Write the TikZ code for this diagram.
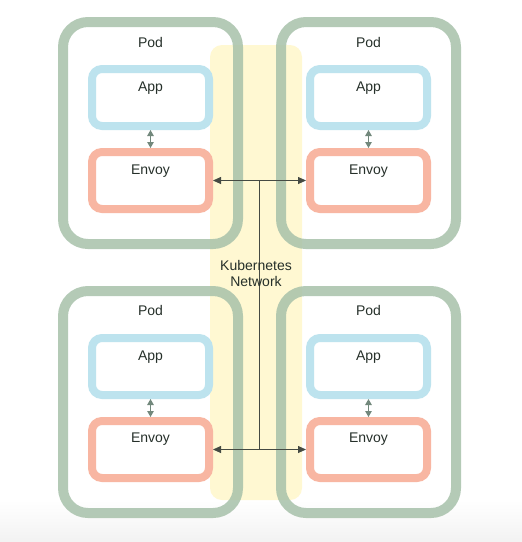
\documentclass[tikz,border=0pt]{standalone}
\usepackage{fontspec}
\setmainfont{Liberation Sans}
\usetikzlibrary{arrows.meta,calc}
\definecolor{podc}{HTML}{A7C1AA}
\definecolor{appc}{HTML}{BDE3EE}
\definecolor{envc}{HTML}{F8B6A2}
\definecolor{netc}{HTML}{FFF8D2}
\definecolor{txtc}{HTML}{26302A}
\definecolor{arrc}{HTML}{454A43}
\definecolor{smallc}{HTML}{72887C}
\tikzset{
  podbox/.style={draw=podc, line width=10pt, rounded corners=25pt, minimum width=175pt, minimum height=222pt, draw opacity=0.85, inner sep=0pt},
  appbox/.style={draw=appc, fill=white, line width=8pt, rounded corners=10pt, minimum width=117pt, minimum height=57pt, inner sep=0pt},
  envbox/.style={draw=envc, fill=white, line width=8pt, rounded corners=10pt, minimum width=117pt, minimum height=57pt, inner sep=0pt},
  lbl/.style={text=txtc, font=\fontsize{14}{16}\selectfont, inner sep=0pt},
  netarrow/.style={draw=arrc, line width=0.8pt, {Triangle[length=8pt,width=7pt]}-{Triangle[length=8pt,width=7pt]}},
  podarrow/.style={draw=smallc, line width=1.2pt, {Triangle[length=6pt,width=6.5pt]}-{Triangle[length=6pt,width=6.5pt]}},
  netline/.style={draw=arrc, line width=0.8pt},
}
\begin{document}
\begin{tikzpicture}[x=1pt,y=-1pt]
\useasboundingbox (0,0) rectangle (522,542);
\fill[white] (0,0) rectangle (522,542);
\shade[top color=white, bottom color=black!5] (0,500) rectangle (522,542);
% network band
\fill[netc, rounded corners=12pt] (210,45) rectangle (302,500);
% pods
\node[podbox] (podTL) at (150.5,133) {};
\node[podbox] (podTR) at (368.5,133) {};
\node[podbox] (podBL) at (150.5,402) {};
\node[podbox] (podBR) at (368.5,402) {};
% app & envoy boxes
\node[appbox] (appTL) at (150.5,97.5) {};
\node[envbox] (envTL) at (150.5,180.5) {};
\node[appbox] (appTR) at (368.5,97.5) {};
\node[envbox] (envTR) at (368.5,180.5) {};
\node[appbox] (appBL) at (150.5,366.5) {};
\node[envbox] (envBL) at (150.5,449.5) {};
\node[appbox] (appBR) at (368.5,366.5) {};
\node[envbox] (envBR) at (368.5,449.5) {};
% labels
\node[lbl] (tPodTL) at (150.5,42) {Pod};
\node[lbl] (tPodTR) at (368.5,42) {Pod};
\node[lbl] (tPodBL) at (150.5,310) {Pod};
\node[lbl] (tPodBR) at (368.5,310) {Pod};
\node[lbl] (tAppTL) at (150.5,88) {App};
\node[lbl] (tAppTR) at (368.5,88) {App};
\node[lbl] (tAppBL) at (150.5,357) {App};
\node[lbl] (tAppBR) at (368.5,357) {App};
\node[lbl] (tEnvTL) at (150.5,171) {Envoy};
\node[lbl] (tEnvTR) at (368.5,171) {Envoy};
\node[lbl] (tEnvBL) at (150.5,439) {Envoy};
\node[lbl] (tEnvBR) at (368.5,439) {Envoy};
% small arrows
\draw[podarrow] (appTL.south) -- (envTL.north);
\draw[podarrow] (appTR.south) -- (envTR.north);
\draw[podarrow] (appBL.south) -- (envBL.north);
\draw[podarrow] (appBR.south) -- (envBR.north);
% network connectors
\coordinate (jT) at ($(envTL.east)!0.5!(envTR.west)$);
\coordinate (jB) at ($(envBL.east)!0.5!(envBR.west)$);
\draw[netarrow] (envTL.east) -- (envTR.west);
\draw[netarrow] (envBL.east) -- (envBR.west);
\draw[netline] (jT) -- (jB);
% network label
\node[lbl, align=center] (net) at (256,273) {Kubernetes\\Network};
\end{tikzpicture}
\end{document}
